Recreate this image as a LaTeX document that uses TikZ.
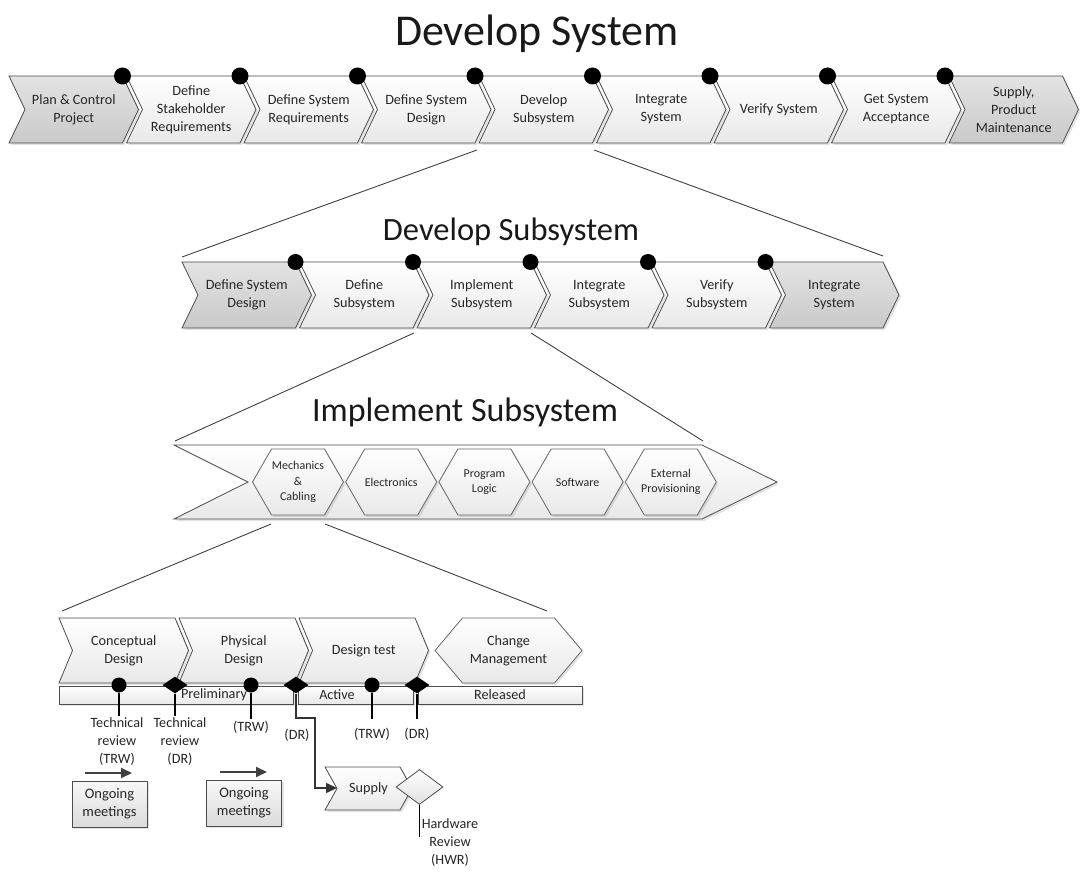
\documentclass[tikz,border=0pt]{standalone}
\usepackage{fontspec}
\setmainfont{Carlito}
\usetikzlibrary{arrows.meta,shapes.geometric,shadows}
\newcommand{\chev}[8]{\path[box,#7] (#2,#3) -- ++(#4,0) -- ++(#6,#5/2) -- ++(-#6,#5/2) -- ++(-#4,0) -- ++(#6,-#5/2) -- cycle;
  \node[txt] (#1) at ({#2+(#4+#6)/2},{#3+#5/2}) {#8};}
\newcommand{\hexa}[8][hextxt]{\path[box,filllight,draw=black!60] (#3-#5,#4) -- (#3-#7,#4-#6) -- (#3+#7,#4-#6) -- (#3+#5,#4) -- (#3+#7,#4+#6) -- (#3-#7,#4+#6) -- cycle;
  \node[#1] (#2) at (#3,#4) {#8};}

\begin{document}
\begin{tikzpicture}[x=1pt,y=-1pt,>={Triangle[length=11pt,width=10pt]},
  box/.style={draw=black!70,line width=0.8pt,drop shadow={shadow xshift=2pt,shadow yshift=-2pt,opacity=0.22}},
  filllight/.style={top color=white,bottom color=black!9},
  fillgrey/.style={top color=black!11,bottom color=black!21},
  txt/.style={font=\fontsize{14.2}{18}\selectfont,align=center,text=black!85,inner sep=0pt},
  hextxt/.style={txt,font=\fontsize{12}{15.5}\selectfont},
  title/.style={font=\fontsize{44}{50}\selectfont,text=black!90,anchor=base,inner sep=0pt},
  dot/.style={circle,fill=black,minimum size=17pt,inner sep=0pt},
  mdot/.style={circle,fill=black,minimum size=15pt,inner sep=0pt},
  mdia/.style={diamond,fill=black,minimum width=25pt,minimum height=17pt,inner sep=0pt},
  zoomln/.style={draw=black!75,line width=0.9pt},
  msline/.style={draw=black,line width=1.6pt},
  elb/.style={draw=black!80,line width=1.5pt,->},
  arr/.style={draw=black!75,line width=2pt,->},
  meet/.style={rectangle,draw=black!70,line width=0.8pt,top color=black!3,bottom color=black!14,minimum width=75pt,minimum height=46pt,
    font=\fontsize{14.5}{18}\selectfont,align=center,text=black!85,drop shadow={shadow xshift=2pt,shadow yshift=-2pt,opacity=0.22}}]
\useasboundingbox (0,0) rectangle (1080,877);

\node[title] (tsys) at (537,46) {Develop System};
\chev{plan}{9}{76}{113.5}{67}{16}{fillgrey}{Plan \& Control\\Project}
\chev{stake}{126.5}{76}{113.5}{67}{16}{filllight}{Define\\Stakeholder\\Requirements}
\chev{sysreq}{244}{76}{113.5}{67}{16}{filllight}{Define System\\Requirements}
\chev{sysdes}{361.5}{76}{113.5}{67}{16}{filllight}{Define System\\Design}
\chev{devsub}{479}{76}{113.5}{67}{16}{filllight}{Develop\\Subsystem}
\chev{intsys}{596.5}{76}{113.5}{67}{16}{filllight}{Integrate\\System}
\chev{versys}{714}{76}{113.5}{67}{16}{filllight}{Verify System}
\chev{accept}{831.5}{76}{113.5}{67}{16}{filllight}{Get System\\Acceptance}
\chev{supmnt}{949}{76}{113.5}{67}{16}{fillgrey}{Supply,\\Product\\Maintenance}
\node[dot] (m1) at (122.5,76) {}; \node[dot] (m2) at (240,76) {}; \node[dot] (m3) at (357.5,76) {}; \node[dot] (m4) at (475,76) {};
\node[dot] (m5) at (592.5,76) {}; \node[dot] (m6) at (710,76) {}; \node[dot] (m7) at (827.5,76) {}; \node[dot] (m8) at (945,76) {};

\coordinate (za) at (477,150); \coordinate (zb) at (182,257); \draw[zoomln] (za) -- (zb);
\coordinate (zc) at (594,150); \coordinate (zd) at (883,256); \draw[zoomln] (zc) -- (zd);

\node[title,font=\fontsize{32.5}{38}\selectfont] (tsub) at (511,241) {Develop Subsystem};
\chev{sdes}{182}{262}{113.5}{66}{16}{fillgrey}{Define System\\Design}
\chev{defsub}{299.5}{262}{113.5}{66}{16}{filllight}{Define\\Subsystem}
\chev{impsub}{417}{262}{113.5}{66}{16}{filllight}{Implement\\Subsystem}
\chev{intsub}{534.5}{262}{113.5}{66}{16}{filllight}{Integrate\\Subsystem}
\chev{versub}{652}{262}{113.5}{66}{16}{filllight}{Verify\\Subsystem}
\chev{intsysb}{769.5}{262}{113.5}{66}{16}{fillgrey}{Integrate\\System}
\node[dot,minimum size=16pt] (n1) at (295.5,262) {}; \node[dot,minimum size=16pt] (n2) at (413,262) {};
\node[dot,minimum size=16pt] (n3) at (530.5,262) {}; \node[dot,minimum size=16pt] (n4) at (648,262) {};
\node[dot,minimum size=16pt] (n5) at (765.5,262) {};

\coordinate (ze) at (414,333); \coordinate (zf) at (175,441); \draw[zoomln] (ze) -- (zf);
\coordinate (zg) at (531,333); \coordinate (zh) at (703,441); \draw[zoomln] (zg) -- (zh);

\node[title,font=\fontsize{34}{40}\selectfont] (timp) at (465,422) {Implement Subsystem};
\path[box,filllight] (174,445) -- (702,445) -- (777,482) -- (702,519) -- (174,519) -- (248,482) -- cycle;
\hexa{mech}{298}{482}{45.5}{33}{26.5}{Mechanics\\\&\\Cabling}
\hexa{elec}{391.2}{482}{45.5}{33}{26.5}{Electronics}
\hexa{plog}{484.4}{482}{45.5}{33}{26.5}{Program\\Logic}
\hexa{soft}{577.6}{482}{45.5}{33}{26.5}{Software}
\hexa{extp}{670.8}{482}{45.5}{33}{26.5}{External\\Provisioning}

\coordinate (zi) at (271,524); \coordinate (zj) at (62,611); \draw[zoomln] (zi) -- (zj);
\coordinate (zk) at (325,524); \coordinate (zl) at (547,611); \draw[zoomln] (zk) -- (zl);

\chev{concept}{59}{618}{116}{65}{13.5}{filllight}{Conceptual\\Design}
\chev{phys}{179}{618}{116}{65}{13.5}{filllight}{Physical\\Design}
\chev{dtest}{299}{618}{116}{65}{13.5}{filllight}{Design test}
\hexa[txt]{change}{508.5}{650.5}{73.5}{32.5}{46}{Change\\Management}
\path[box,filllight] (59,686) rectangle (293,704); \path[box,filllight] (298,686) rectangle (413,704);
\path[box,filllight] (418,686) rectangle (582,704);
\node[txt] (prelim) at (214,695) {Preliminary}; \node[txt] (active) at (337,695) {Active}; \node[txt] (rel) at (500,695) {Released};

\node[mdot] (trw1) at (119,685) {}; \node[mdia] (dr1) at (175,685) {}; \node[mdot] (trw2) at (251,685) {};
\node[mdia] (dr2) at (296,685) {}; \node[mdot] (trw3) at (372,685) {}; \node[mdia] (dr3) at (417,685) {};
\coordinate (q1) at (119,716); \coordinate (q2) at (175,716); \coordinate (q3) at (251,719);
\coordinate (q5) at (372,719); \coordinate (q6) at (417,719);
\draw[msline] (trw1) -- (q1); \draw[msline] (dr1) -- (q2); \draw[msline] (trw2) -- (q3);
\draw[msline] (trw3) -- (q5); \draw[msline] (dr3) -- (q6);
\node[txt] (ltrw1) at (117,742) {Technical\\review\\(TRW)}; \node[txt] (ldr1) at (180,742) {Technical\\review\\(DR)};
\node[txt] (ltrw2) at (251,727) {(TRW)}; \node[txt] (ldr2) at (297,735) {(DR)};
\node[txt] (ltrw3) at (372,734) {(TRW)}; \node[txt] (ldr3) at (417,734) {(DR)};

\coordinate (a1) at (85,773); \coordinate (a2) at (132,773); \draw[arr] (a1) -- (a2);
\coordinate (a3) at (220,772); \coordinate (a4) at (267,772); \draw[arr] (a3) -- (a4);
\node[meet] (om1) at (109.5,804) {Ongoing\\meetings}; \node[meet] (om2) at (244,803) {Ongoing\\meetings};

\chev{supply}{325}{767}{75}{43}{12}{filllight}{Supply}
\node[diamond,draw=black!70,line width=0.8pt,top color=white,bottom color=black!12,minimum width=47pt,minimum height=35pt,inner sep=0pt] (hwr) at (419.5,787) {};
\coordinate (e1) at (315,718); \coordinate (supin) at (337,788); \draw[elb] (dr2) |- (e1) |- (supin);
\coordinate (q7) at (419.5,837); \draw[draw=black,line width=1.4pt] (hwr) -- (q7);
\node[txt] (lhwr) at (450,843) {Hardware\\Review\\(HWR)};
\end{tikzpicture}
\end{document}
